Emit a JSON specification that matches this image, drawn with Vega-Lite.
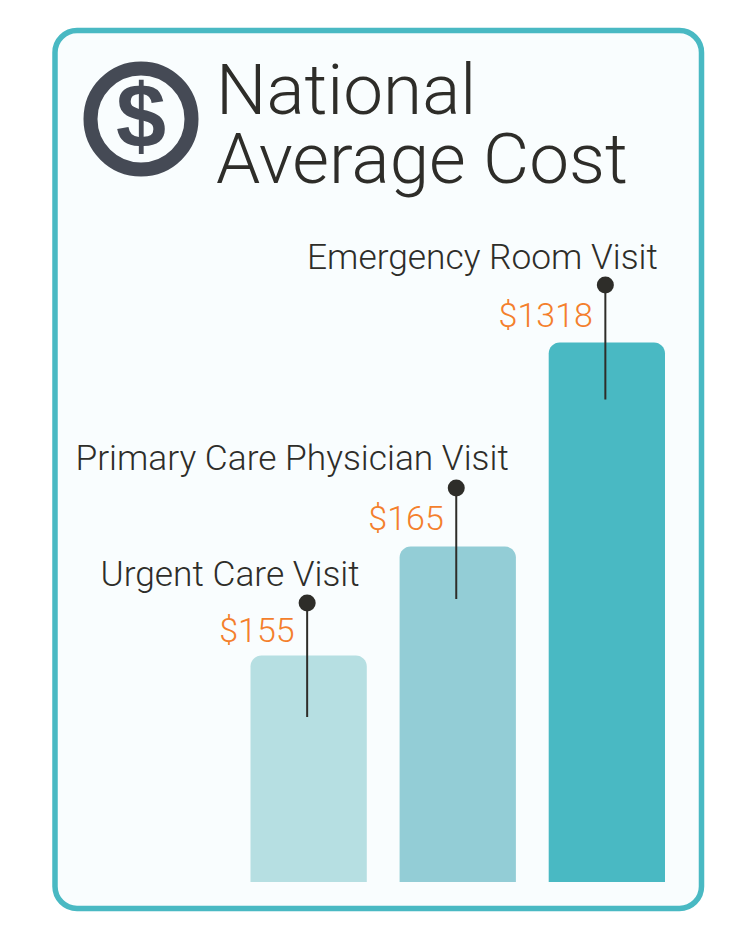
{
"$schema":"https://vega.github.io/schema/vega-lite/v6.json",
"autosize":"none",
"padding":{"left":55,"top":30.5,"right":52.5,"bottom":29.5},
"width":646.5,
"height":878,
"background":"#ffffff",
"view":{"fill":"#f9fdfe","stroke":"#49b9c3","strokeWidth":5.5,"cornerRadius":22},
"title":{"text":["National","Average Cost"],"anchor":"start","frame":"group","dx":161,"dy":167,"font":"Roboto","fontWeight":300,"fontSize":71,"lineHeight":69,"color":"#2e2d29","offset":0},
"data":{"values":[
{"visit":"Urgent Care Visit","cost":155},
{"visit":"Primary Care Physician Visit","cost":165},
{"visit":"Emergency Room Visit","cost":1318}
]},
"encoding":{
"x":{"field":"visit","type":"nominal","axis":null,"sort":["Urgent Care Visit","Primary Care Physician Visit","Emergency Room Visit"],"scale":{"range":[195.5,610],"paddingInner":0.22,"paddingOuter":0}}
},
"resolve":{"scale":{"y":"independent"}},
"layer":[
{"mark":{"type":"bar","cornerRadiusTopLeft":11,"cornerRadiusTopRight":11},
"encoding":{
"y":{"field":"cost","type":"quantitative","stack":null,"axis":null,"scale":{"domain":[0,155,165,1318],"range":[851.5,625,516,312],"nice":false,"zero":false}},
"color":{"field":"visit","type":"nominal","legend":null,"scale":{"domain":["Urgent Care Visit","Primary Care Physician Visit","Emergency Room Visit"],"range":["#b6dfe2","#93cdd6","#49b9c3"]}}
}},
{"mark":{"type":"tick","orient":"vertical","thickness":2,"color":"#2e2d29","opacity":1,"xOffset":-1.5},
"encoding":{
"y":{"field":"cost","type":"quantitative","axis":null,"scale":{"domain":[155,165,1318],"range":[629.5,512.5,314],"nice":false,"zero":false}},
"size":{"field":"cost","type":"ordinal","legend":null,"scale":{"domain":[155,165,1318],"range":[114,110,117]}}
}},
{"mark":{"type":"point","shape":"circle","filled":true,"size":290,"color":"#2e2d29","opacity":1,"xOffset":-1.5},
"encoding":{
"y":{"field":"cost","type":"quantitative","axis":null,"scale":{"domain":[155,165,1318],"range":[572.5,457.5,254.5],"nice":false,"zero":false}}
}},
{"mark":{"type":"text","align":"right","baseline":"middle","dx":51,"font":"Roboto","fontWeight":300,"fontSize":35.3,"color":"#2e2d29"},
"encoding":{
"y":{"field":"cost","type":"quantitative","axis":null,"scale":{"domain":[155,165,1318],"range":[544,428.5,227.5],"nice":false,"zero":false}},
"text":{"field":"visit","type":"nominal"}
}},
{"mark":{"type":"text","align":"right","baseline":"middle","dx":-14,"font":"Roboto","fontWeight":300,"fontSize":34,"color":"#f47f2c"},
"encoding":{
"y":{"field":"cost","type":"quantitative","axis":null,"scale":{"domain":[155,165,1318],"range":[601,489.5,286],"nice":false,"zero":false}},
"text":{"field":"cost","type":"quantitative","format":"$.0f"}
}},
{"data":{"values":[{"icon":"dollar"}]},
"mark":{"type":"point","shape":"circle","filled":false,"size":10201,"strokeWidth":14,"color":"#454a55","opacity":1},
"encoding":{"x":{"value":86},"y":{"value":88.5}}},
{"data":{"values":[{"icon":"$"}]},
"mark":{"type":"text","align":"center","baseline":"middle","font":"Liberation Sans","fontWeight":"bold","fontSize":90,"color":"#454a55"},
"encoding":{"x":{"value":86},"y":{"value":89},"text":{"field":"icon","type":"nominal"}}}
]
}
